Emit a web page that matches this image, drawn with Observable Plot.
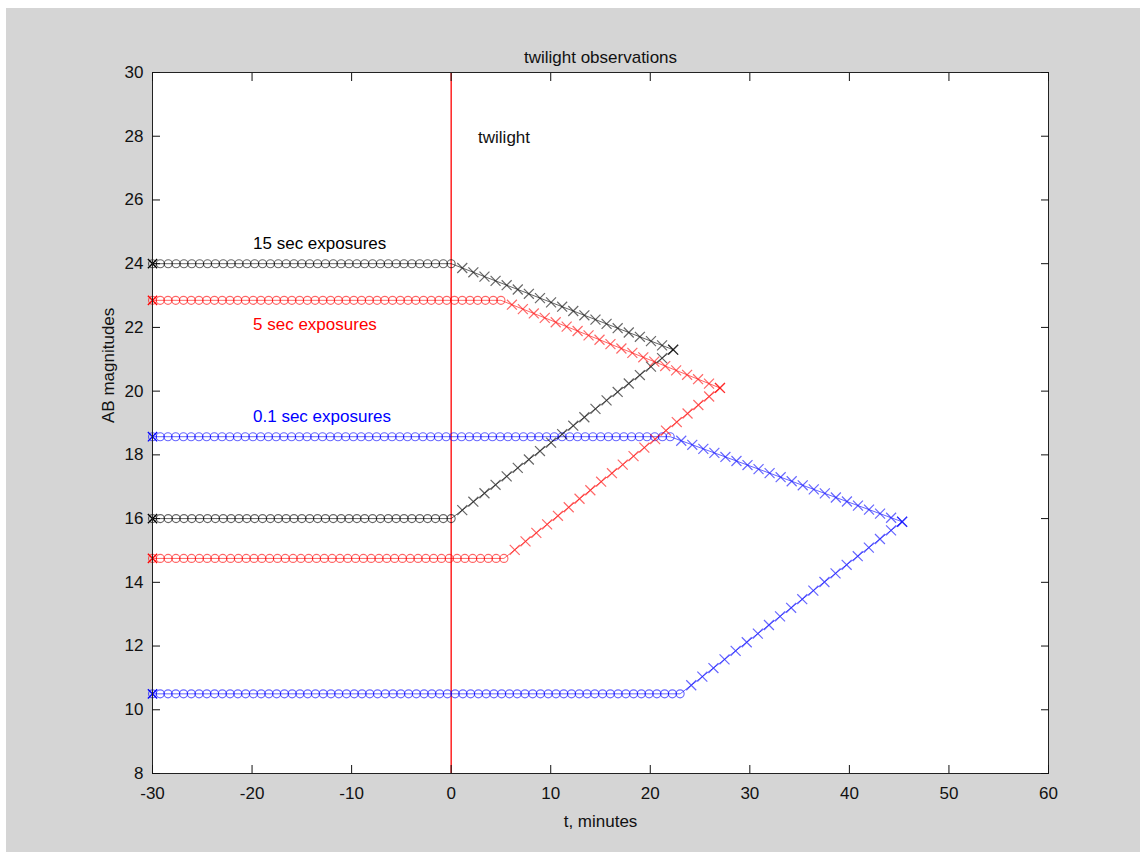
<!DOCTYPE html>
<html>
<head>
<meta charset="utf-8">
<script src="https://cdn.jsdelivr.net/npm/d3@7"></script>
<script src="https://cdn.jsdelivr.net/npm/@observablehq/plot@0.6"></script>
<style>
  html, body { margin: 0; padding: 0; background: #ffffff; }
  #fig { position: absolute; left: 0; top: 0; width: 1143px; height: 854px; background: #ffffff; }
  #gray { position: absolute; left: 6px; top: 8px; width: 1134px; height: 844px; background: #d5d5d5; }
  #fig svg { position: absolute; left: 0; top: 0; }
</style>
</head>
<body>
<div id="fig"><div id="gray"></div></div>
<script>
// ---- data ----
const seriesNames = ["15 sec exposures", "5 sec exposures", "0.1 sec exposures"];
const seriesColors = ["#000000", "#ff0000", "#0000ff"];
// each series has an upper (faint limit) and lower (bright limit) branch
const branchSeries = [0, 0, 1, 1, 2, 2];
const startT = [-30, -30, -30, -30, -30, -30];
const flatMag = [24.0, 16.0, 22.85, 14.75, 18.57, 10.5];
const flatEndT = [0, 0, 5.0, 5.3, 22.0, 23.0];
const peakT = [22.3, 22.3, 27.0, 27.0, 45.3, 45.3];
const peakMag = [21.3, 21.3, 20.1, 20.1, 15.9, 15.9];
const circleStep = 0.78;  // minutes between plotted exposures on the flat part
const crossStep = 1.1;    // minutes between plotted exposures on the sloped part
const labelT = [-19.9, -19.9, -19.9];
const labelMag = [24.63, 22.09, 19.2];
const twilightT = 0;
const xTicks = [-30, -20, -10, 0, 10, 20, 30, 40, 50, 60];
const yTicks = [8, 10, 12, 14, 16, 18, 20, 22, 24, 26, 28, 30];

// ---- build tables ----
const lines = [], circles = [], crosses = [], endCrosses = [];
branchSeries.forEach((s, i) => {
  const c = seriesColors[s];
  lines.push({b: i, c, t: startT[i], m: flatMag[i]});
  lines.push({b: i, c, t: flatEndT[i], m: flatMag[i]});
  lines.push({b: i, c, t: peakT[i], m: peakMag[i]});
  const nC = Math.round((flatEndT[i] - startT[i]) / circleStep);
  for (let k = 0; k <= nC; k++) circles.push({c, t: startT[i] + k * (flatEndT[i] - startT[i]) / nC, m: flatMag[i]});
  const nX = Math.round((peakT[i] - flatEndT[i]) / crossStep);
  for (let k = 1; k <= nX; k++) {
    const f = k / nX;
    crosses.push({c, t: flatEndT[i] + f * (peakT[i] - flatEndT[i]), m: flatMag[i] + f * (peakMag[i] - flatMag[i])});
  }
  endCrosses.push({c, t: startT[i], m: flatMag[i]});
});

const W = 1143, H = 854;
const plot = Plot.plot({
  width: W, height: H,
  marginLeft: 152, marginRight: 95, marginTop: 72, marginBottom: 81,
  style: {background: "transparent", fontFamily: "'Liberation Sans', Arial, sans-serif", fontSize: "17px", color: "#111"},
  x: {domain: [-30, 60]},
  y: {domain: [8, 30]},
  marks: [
    Plot.rect([0], {x1: -30, x2: 60, y1: 8, y2: 30, fill: "white"}),
    Plot.ruleX([twilightT], {stroke: "#ff0000", strokeWidth: 1.3}),
    Plot.line(lines, {x: "t", y: "m", z: "b", stroke: "c", strokeWidth: 1, strokeOpacity: 0.6}),
    Plot.dot(circles, {x: "t", y: "m", stroke: "c", r: 4, strokeWidth: 1.1, strokeOpacity: 0.6}),
    Plot.dot(crosses, {x: "t", y: "m", stroke: "c", symbol: "times", r: 4.6, strokeWidth: 1.2, strokeOpacity: 0.6}),
    Plot.dot(endCrosses, {x: "t", y: "m", stroke: "c", symbol: "times", r: 4.3, strokeWidth: 1.3}),
    Plot.text(seriesNames, {x: (d, i) => labelT[i], y: (d, i) => labelMag[i], text: d => d, fill: (d, i) => seriesColors[i], textAnchor: "start", fontSize: 17}),
    Plot.text(["twilight"], {x: 2.7, y: 27.96, text: d => d, textAnchor: "start", fill: "#111", fontSize: 17}),
    Plot.frame({stroke: "#222", strokeWidth: 1}),
    Plot.axisX({anchor: "bottom", ticks: xTicks, tickSize: -8, tickPadding: 21, tickFormat: d => String(d), label: null}),
    Plot.axisX({anchor: "top", ticks: xTicks, tickSize: -8, tickFormat: () => "", label: null}),
    Plot.axisY({anchor: "left", ticks: yTicks, tickSize: -8, tickPadding: 17, tickFormat: d => String(d), label: null}),
    Plot.axisY({anchor: "right", ticks: yTicks, tickSize: -8, tickFormat: () => "", label: null}),
    Plot.text(["twilight observations"], {frameAnchor: "top", dy: -22, text: d => d, fontSize: 17, fill: "#111"}),
    Plot.text(["t, minutes"], {frameAnchor: "bottom", dy: 53, text: d => d, fontSize: 17, fill: "#111"}),
    Plot.text(["AB magnitudes"], {frameAnchor: "left", dx: -44, rotate: -90, text: d => d, fontSize: 17, fill: "#111"})
  ]
});
document.getElementById("fig").appendChild(plot);
</script>
</body>
</html>
